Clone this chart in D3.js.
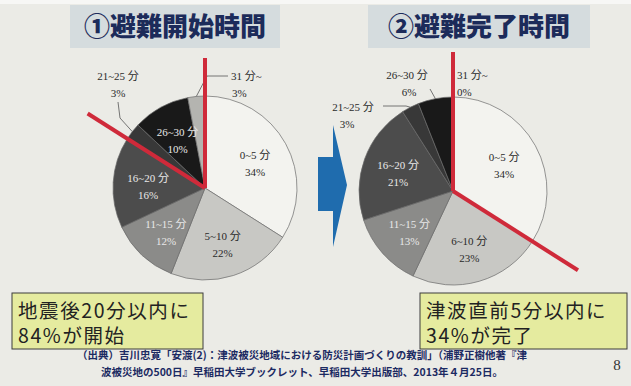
<!DOCTYPE html>
<html>
<head>
<meta charset="utf-8">
<script src="https://cdn.jsdelivr.net/npm/d3@7"></script>
<style>
  html, body { margin: 0; padding: 0; background: #ebebe6; }
  svg { display: block; }
</style>
</head>
<body>
<svg id="slide"></svg>
<script>
const width = 631, height = 386;

// data
const startLabels = ["0~5 分", "5~10 分", "11~15 分", "16~20 分", "21~25 分", "26~30 分", "31 分~"];
const startValues = [34, 22, 12, 16, 3, 10, 3];
const doneLabels = ["0~5 分", "6~10 分", "11~15 分", "16~20 分", "21~25 分", "26~30 分", "31 分~"];
const doneValues = [34, 23, 13, 21, 3, 6, 0];
const sliceColors = ["#f3f3ef", "#c8c8c4", "#8b8b89", "#4c4c4c", "#383838", "#191919", "#b4b4b0"];
const darkSlices = [false, false, true, true, true, true, false];

const titles = ["①避難開始時間", "②避難完了時間"];
const notes = [["地震後20分以内に", "84%が開始"], ["津波直前5分以内に", "34%が完了"]];
const source = [
  "（出典）吉川忠寛「安渡(2)：津波被災地域における防災計画づくりの教訓」（浦野正樹他著『津",
  "波被災地の500日』早稲田大学ブックレット、早稲田大学出版部、2013年４月25日。"
];

const svg = d3.select("#slide").attr("width", width).attr("height", height);
svg.append("rect").attr("width", width).attr("height", height).attr("fill", "#ebebe6");
svg.append("rect").attr("width", width).attr("height", 4).attr("fill", "#f7f7f5");

// title boxes
const titleBoxes = [{x: 70, w: 210}, {x: 368, w: 222}];
titleBoxes.forEach(function(b, i) {
    svg.append("rect").attr("x", b.x).attr("y", 5).attr("width", b.w).attr("height", 43)
        .attr("fill", "#d5dcde");
    svg.append("text").attr("x", b.x + b.w / 2).attr("y", 36)
        .attr("text-anchor", "middle")
        .attr("font-family", "'Noto Sans CJK JP', sans-serif")
        .attr("font-weight", 900).attr("font-size", 26)
        .attr("fill", "#1c2b5a")
        .text(titles[i]);
});

const pie = d3.pie().sort(null).value(d => d);

function drawPie(cx, cy, r, values, labels, callouts, redLines) {
    const g = svg.append("g").attr("transform", `translate(${cx},${cy})`);
    const arcs = pie(values);
    const arc = d3.arc().innerRadius(0).outerRadius(r);
    const labelArc = d3.arc().innerRadius(r * 0.62).outerRadius(r * 0.62);

    g.selectAll("path.slice")
        .data(arcs)
        .enter()
        .append("path")
        .attr("class", "slice")
        .attr("d", arc)
        .attr("fill", (d, i) => sliceColors[i])
        .attr("stroke", "#6a6a6a")
        .attr("stroke-width", 0.7);

    const labelFont = "'Liberation Serif', 'Noto Sans CJK JP', serif";
    arcs.forEach(function(d, i) {
        const co = callouts[i];
        if (co) {
            const mid = (d.startAngle + d.endAngle) / 2;
            const px = r * Math.sin(mid), py = -r * Math.cos(mid);
            const pts = co.path.concat([[px, py]]);
            g.append("path")
                .attr("d", d3.line()(pts))
                .attr("fill", "none")
                .attr("stroke", "#555")
                .attr("stroke-width", 0.8);
            const t = g.append("text")
                .attr("font-family", labelFont).attr("font-size", 11)
                .attr("fill", "#2a2a2a")
                .attr("text-anchor", co.anchor);
            t.append("tspan").attr("x", co.x).attr("y", co.y).text(labels[i]);
            t.append("tspan").attr("x", co.x2).attr("y", co.y + 17).text(values[i] + "%");
            return;
        }
        if (values[i] === 0) return;
        const c = labelArc.centroid(d);
        const t = g.append("text")
            .attr("font-family", labelFont).attr("font-size", 11)
            .attr("text-anchor", "middle")
            .attr("fill", darkSlices[i] ? "#e8e8e8" : "#2a2a2a");
        t.append("tspan").attr("x", c[0]).attr("y", c[1] - 2).text(labels[i]);
        t.append("tspan").attr("x", c[0]).attr("y", c[1] + 15).text(values[i] + "%");
    });

    // red markers at the cumulative boundaries
    redLines.forEach(function(rl) {
        const cum = d3.sum(values.slice(0, rl.count));
        const a = cum / d3.sum(values) * 2 * Math.PI;
        g.append("line")
            .attr("x1", 0).attr("y1", 0)
            .attr("x2", rl.len * Math.sin(a)).attr("y2", -rl.len * Math.cos(a))
            .attr("stroke", "#cf2a3a")
            .attr("stroke-width", 4)
            .attr("stroke-linecap", "butt");
    });
}

drawPie(205, 188, 92, startValues, startLabels, {
    4: {x: -87, x2: -87, y: -108, anchor: "middle", path: [[-87, -86], [-85, -70]]},
    6: {x: 26, x2: 27, y: -108, anchor: "start", path: [[23, -112], [2, -112]]}
}, [{count: 0, len: 130}, {count: 4, len: 139}]);

drawPie(453, 191, 94, doneValues, doneLabels, {
    4: {x: -100, x2: -106, y: -80, anchor: "middle", path: [[-70, -85], [-47, -85]]},
    5: {x: -46, x2: -44, y: -112, anchor: "middle", path: [[-23, -102]]},
    6: {x: 4, x2: 4, y: -112, anchor: "start", path: []}
}, [{count: 0, len: 139}, {count: 1, len: 148}]);

// blue arrow between the pies
const arrowPts = [[318, 157], [333, 157], [333, 125], [347, 185], [333, 247], [333, 211], [318, 211]];
svg.append("path")
    .attr("d", d3.line()(arrowPts) + "Z")
    .attr("fill", "#1f6cae");

// yellow note boxes
const noteBoxes = [{x: 12, w: 191}, {x: 420, w: 207}];
noteBoxes.forEach(function(b, i) {
    svg.append("rect").attr("x", b.x).attr("y", 293).attr("width", b.w).attr("height", 56)
        .attr("fill", "#e5eb9f").attr("stroke", "#3c3c3c").attr("stroke-width", 1);
    notes[i].forEach(function(line, j) {
        svg.append("text").attr("x", b.x + 6).attr("y", 318 + j * 25)
            .attr("font-family", "'Noto Sans CJK JP', sans-serif")
            .attr("font-size", 19.5).attr("letter-spacing", 1.6)
            .attr("fill", "#222")
            .text(line);
    });
});

// source note and page number
source.forEach(function(line, j) {
    svg.append("text").attr("x", 302).attr("y", 359 + j * 17)
        .attr("text-anchor", "middle")
        .attr("font-family", "'Noto Sans CJK JP', sans-serif")
        .attr("font-weight", 700).attr("font-size", 10.5)
        .attr("fill", "#1c2a62")
        .text(line);
});
svg.append("text").attr("x", 617).attr("y", 370)
    .attr("text-anchor", "middle")
    .attr("font-family", "'Liberation Serif', serif")
    .attr("font-size", 15).attr("fill", "#333")
    .text("8");
</script>
</body>
</html>
